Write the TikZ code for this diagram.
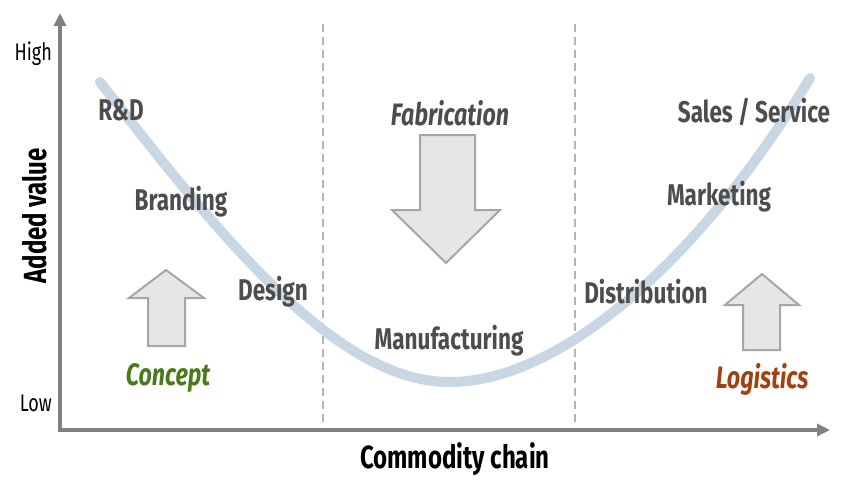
\documentclass[tikz,border=0pt]{standalone}
\usepackage{fontspec}
\setmainfont{Fira Sans}[FakeStretch=0.75]
\usetikzlibrary{arrows.meta}
\definecolor{AxisGray}{HTML}{808080}
\definecolor{LabelGray}{HTML}{4D4D4D}
\definecolor{CurveBlue}{HTML}{C9D6E3}
\definecolor{ArrowFill}{HTML}{E6E6E6}
\definecolor{ArrowLine}{HTML}{A6A6A6}
\definecolor{DashGray}{HTML}{B3B3B3}
\definecolor{ConceptGreen}{HTML}{4A7A1C}
\definecolor{LogisticsBrown}{HTML}{A1410E}

\tikzset{
    axisline/.style={draw=AxisGray, line width=4pt, -{Triangle[length=13pt, width=12pt]}},
    divider/.style={draw=DashGray, line width=1.6pt, dash pattern=on 8pt off 5pt},
    smile/.style={draw=CurveBlue, line width=10pt, line cap=round},
    fatarrow/.style={fill=ArrowFill, draw=ArrowLine, line width=2pt, line join=miter},
    stage/.style={text=LabelGray, font=\fontsize{30}{32}\selectfont\bfseries, inner sep=0pt},
    phase/.style={font=\fontsize{31}{33}\selectfont\bfseries\itshape, inner sep=0pt},
    level/.style={text=black, font=\fontsize{24}{26}\selectfont, inner sep=0pt, anchor=east},
    axistitle/.style={text=black, font=\fontsize{32}{34}\selectfont\bfseries, inner sep=0pt}
}

\begin{document}
\begin{tikzpicture}[x=1pt, y=-1pt]
    \useasboundingbox (0,0) rectangle (850,496);

    % axes
    \coordinate (origin) at (60,430);
    \coordinate (ytip) at (60,13);
    \coordinate (xtip) at (830,430);
    \draw[axisline] (origin) -- (ytip);
    \draw[axisline] (58,430) -- (xtip);

    % section dividers
    \draw[divider] (323,24) -- (323,422);
    \draw[divider] (575,24) -- (575,422);

    % smile curve
    \draw[smile] (100,82) .. controls (230,250) and (340,382) .. (450,382)
                          .. controls (560,382) and (700,260) .. (810,78);

    % phase arrows
    \draw[fatarrow] (420,135) -- (475,135) -- (475,210) -- (500,210) -- (446,263)
                    -- (392,210) -- (420,210) -- cycle;
    \draw[fatarrow] (148,346) -- (185,346) -- (185,298) -- (204,298) -- (166,270)
                    -- (129,298) -- (148,298) -- cycle;
    \draw[fatarrow] (743,350) -- (780,350) -- (780,305) -- (799,305) -- (762,274)
                    -- (725,305) -- (743,305) -- cycle;

    % axis labels
    \node[level] (high) at (52,54) {High};
    \node[level] (low) at (52,403) {Low};
    \node[axistitle, rotate=90] (yaxis) at (35,216) {Added value};
    \node[axistitle] (xaxis) at (455,459) {Commodity chain};

    % stages
    \node[stage] (rnd) at (121,110) {R\&D};
    \node[stage] (branding) at (181,202) {Branding};
    \node[stage] (design) at (273,292) {Design};
    \node[stage] (manufacturing) at (449,341) {Manufacturing};
    \node[stage] (distribution) at (646,292) {Distribution};
    \node[stage] (marketing) at (719,197) {Marketing};
    \node[stage] (sales) at (754,112) {Sales / Service};

    % phases
    \node[phase, text=LabelGray] (fabrication) at (450,113) {Fabrication};
    \node[phase, text=ConceptGreen] (concept) at (168,378) {Concept};
    \node[phase, text=LogisticsBrown] (logistics) at (762,379) {Logistics};
\end{tikzpicture}
\end{document}
